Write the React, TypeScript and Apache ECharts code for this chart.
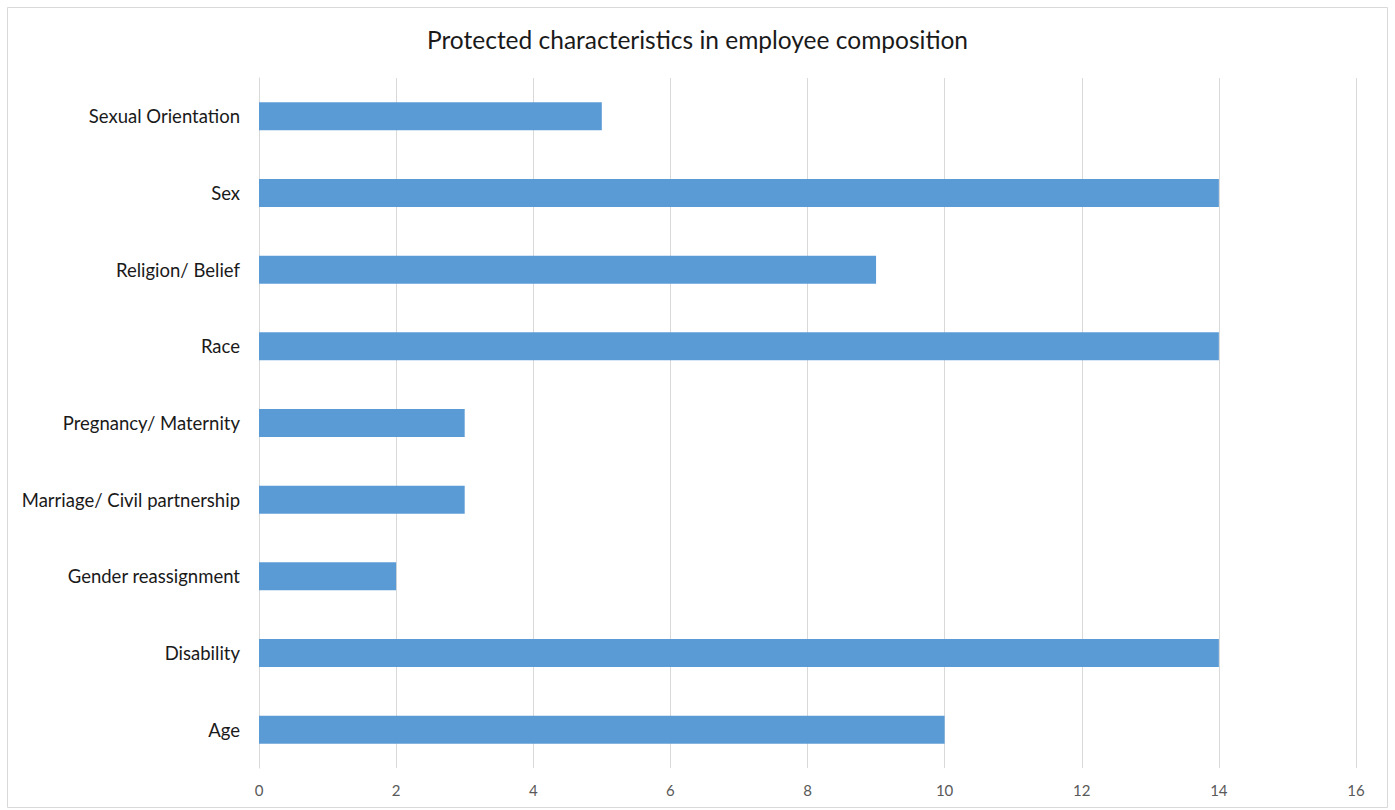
import React, { useEffect, useRef } from "react";
import * as echarts from "echarts";

const categories = [
  "Age",
  "Disability",
  "Gender reassignment",
  "Marriage/ Civil partnership",
  "Pregnancy/ Maternity",
  "Race",
  "Religion/ Belief",
  "Sex",
  "Sexual Orientation",
];
const values = [10, 14, 2, 3, 3, 14, 9, 14, 5];
const titleText = "Protected characteristics in employee composition";

export default function App() {
  const ref = useRef<HTMLDivElement>(null);
  useEffect(() => {
    if (!ref.current) return;
    const chart = echarts.init(ref.current, null, { renderer: "svg" });
    const font = "Lato, 'Noto Sans', sans-serif";
    chart.setOption({
      animation: false,
      backgroundColor: "#ffffff",
      title: {
        text: titleText,
        left: "center",
        top: 22,
        textStyle: { fontFamily: font, fontSize: 24.5, fontWeight: "normal", color: "#1a1a1a" },
      },
      graphic: [
        {
          type: "rect",
          shape: { x: 7.5, y: 7.5, width: 1380, height: 800 },
          style: { fill: "none", stroke: "#d9d9d9", lineWidth: 1 },
          silent: true,
        },
      ],
      grid: { left: 259, right: 39, top: 78, bottom: 42, containLabel: false },
      xAxis: {
        type: "value",
        min: 0,
        max: 16,
        interval: 2,
        axisLine: { show: false },
        axisTick: { show: false },
        splitLine: { show: true, lineStyle: { color: "#d9d9d9", width: 1 } },
        axisLabel: { fontFamily: font, fontSize: 15, color: "#595959", margin: 14 },
      },
      yAxis: {
        type: "category",
        data: categories,
        axisLine: { show: true, lineStyle: { color: "#d9d9d9" } },
        axisTick: { show: false },
        axisLabel: { fontFamily: font, fontSize: 18.5, color: "#1a1a1a", margin: 19 },
      },
      series: [
        {
          type: "bar",
          data: values,
          barWidth: 28,
          itemStyle: { color: "#5b9bd5" },
        },
      ],
    });
    return () => chart.dispose();
  }, []);
  return (
    <div
      ref={ref}
      style={{ position: "fixed", left: 0, top: 0, width: 1395, height: 810 }}
    />
  );
}
